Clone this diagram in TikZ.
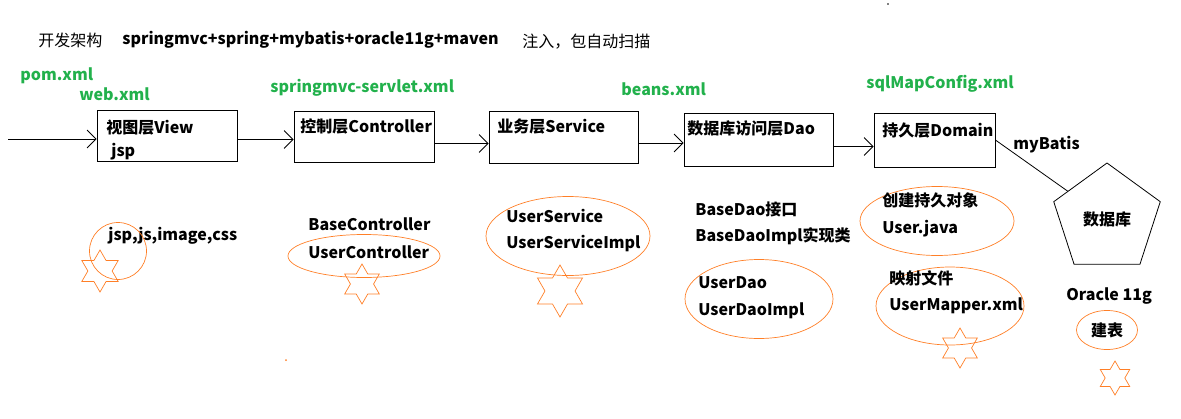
\documentclass[tikz,border=0pt]{standalone}
\usepackage{fontspec}
\setmainfont{Noto Sans CJK SC}
\usetikzlibrary{arrows.meta,shapes.geometric}
\definecolor{xmlgreen}{RGB}{34,177,76}
\definecolor{pencil}{RGB}{255,127,39}
\tikzset{layer/.style={draw, thick, inner sep=0pt}}

\begin{document}
\begin{tikzpicture}[x=1pt, y=-1pt, line width=0.8pt,
		txt/.style={anchor=west, inner sep=0pt, font=\fontsize{16}{18}\selectfont\bfseries},
		cfg/.style={txt, text=xmlgreen},
		ring/.style={draw=pencil, ellipse, inner sep=0pt, line width=0.7pt},
		hexstar/.style={draw=pencil, star, star points=6, star point ratio=1.73, inner sep=0pt, minimum size=#1, line width=0.7pt},
		arr/.style={-{Straight Barb[length=9pt,width=18pt]}}]
		\useasboundingbox (0,0) rectangle (1181,418);
		% title
		\node(t1)[txt, font=\fontsize{16}{18}\selectfont] at (38,40){开发架构};
		\node(t2)[txt] at (122,40){springmvc+spring+mybatis+oracle11g+maven};
		\node(t3)[txt, font=\fontsize{16}{18}\selectfont] at (522,42){注入，包自动扫描};
		% config files
		\node(pom)[cfg] at (20,76){pom.xml};
		\node(web)[cfg] at (79,94){web.xml};
		\node(mvc)[cfg] at (270,88){springmvc-servlet.xml};
		\node(beans)[cfg] at (621,89){beans.xml};
		\node(sqlmap)[cfg] at (866,84){sqlMapConfig.xml};
		% layers
		\node(View)[layer, minimum width=140, minimum height=51] at (167,135.5){};
		\node(Ctrl)[layer, minimum width=140, minimum height=51] at (364,136.5){};
		\node(Serv)[layer, minimum width=149, minimum height=52] at (563.5,137){};
		\node(Dao)[layer, minimum width=149, minimum height=53] at (758.5,139.5){};
		\node(Dom)[layer, minimum width=121, minimum height=54] at (934.5,140){};
		\node(View1)[txt] at (106,128){视图层View};
		\node(View2)[txt] at (111,152){jsp};
		\node(Ctrl1)[txt] at (300,126){控制层Controller};
		\node(Serv1)[txt] at (497,127){业务层Service};
		\node(Dao1)[txt] at (687,128){数据库访问层Dao};
		\node(Dom1)[txt] at (882,131){持久层Domain};
		\coordinate(in) at (8,139);
		\draw[arr](in) -- (in -| View.west);
		\draw[arr]([yshift=-4]View.east) -- ([yshift=-4]View.east -| Ctrl.west);
		\draw[arr]([yshift=-7]Ctrl.east) -- ([yshift=-7]Ctrl.east -| Serv.west);
		\draw[arr]([yshift=-6]Serv.east) -- ([yshift=-6]Serv.east -| Dao.west);
		\draw[arr]([yshift=-7]Dao.east) -- ([yshift=-7]Dao.east -| Dom.west);
		% database
		\node(db)[draw, regular polygon, regular polygon sides=5, minimum size=112, inner sep=0pt,
			font=\fontsize{16}{18}\selectfont\bfseries] at (1107,219){数据库};
		\draw(Dom.east) -- (db);
		\node(mb)[txt] at (1013,145){myBatis};
		% view side
		\node(res)[txt] at (108,236){jsp,js,image,css};
		\node(resring)[ring, circle, minimum size=57] at (118,251){};
		\node(s1)[hexstar=42] at (100,271){};
		% controller side
		\node(bc)[txt] at (308,224){BaseController};
		\node(ucring)[ring, minimum width=152, minimum height=43] at (364,256){};
		\node(uc)[txt] at (308,252){UserController};
		\node(s2)[hexstar=40] at (362,284){};
		% service side
		\node(usring)[ring, minimum width=164, minimum height=79] at (568,236){};
		\node(us)[txt] at (506,216){UserService};
		\node(usi)[txt] at (506,244){UserServiceImpl};
		\node(s3)[hexstar=52] at (560,291){};
		% dao side
		\node(bd)[txt] at (695,209){BaseDao接口};
		\node(bdi)[txt] at (695,236){BaseDaoImpl实现类};
		\node(udring)[ring, minimum width=148, minimum height=79] at (759,299){};
		\node(ud)[txt] at (698,283){UserDao};
		\node(udi)[txt] at (698,311){UserDaoImpl};
		% domain side
		\node(poring)[ring, minimum width=154, minimum height=69] at (937,221){};
		\node(po1)[txt] at (882,200){创建持久对象};
		\node(po2)[txt] at (882,229){User.java};
		\node(mpring)[ring, minimum width=148, minimum height=78] at (950,306){};
		\node(mp1)[txt] at (889,278){映射文件};
		\node(mp2)[txt] at (889,306){UserMapper.xml};
		\node(s4)[hexstar=40] at (960,348){};
		% oracle
		\node(ora)[txt] at (1066,296){Oracle 11g};
		\node(tbl)[ring, minimum width=61, minimum height=39, font=\fontsize{16}{18}\selectfont\bfseries] at (1107,330){建表};
		\node(s5)[hexstar=34] at (1115,378){};
		% stray dots
		\fill(888,4) circle (0.8);
		\fill[pencil](286,360) circle (1);
	\end{tikzpicture}
\end{document}
